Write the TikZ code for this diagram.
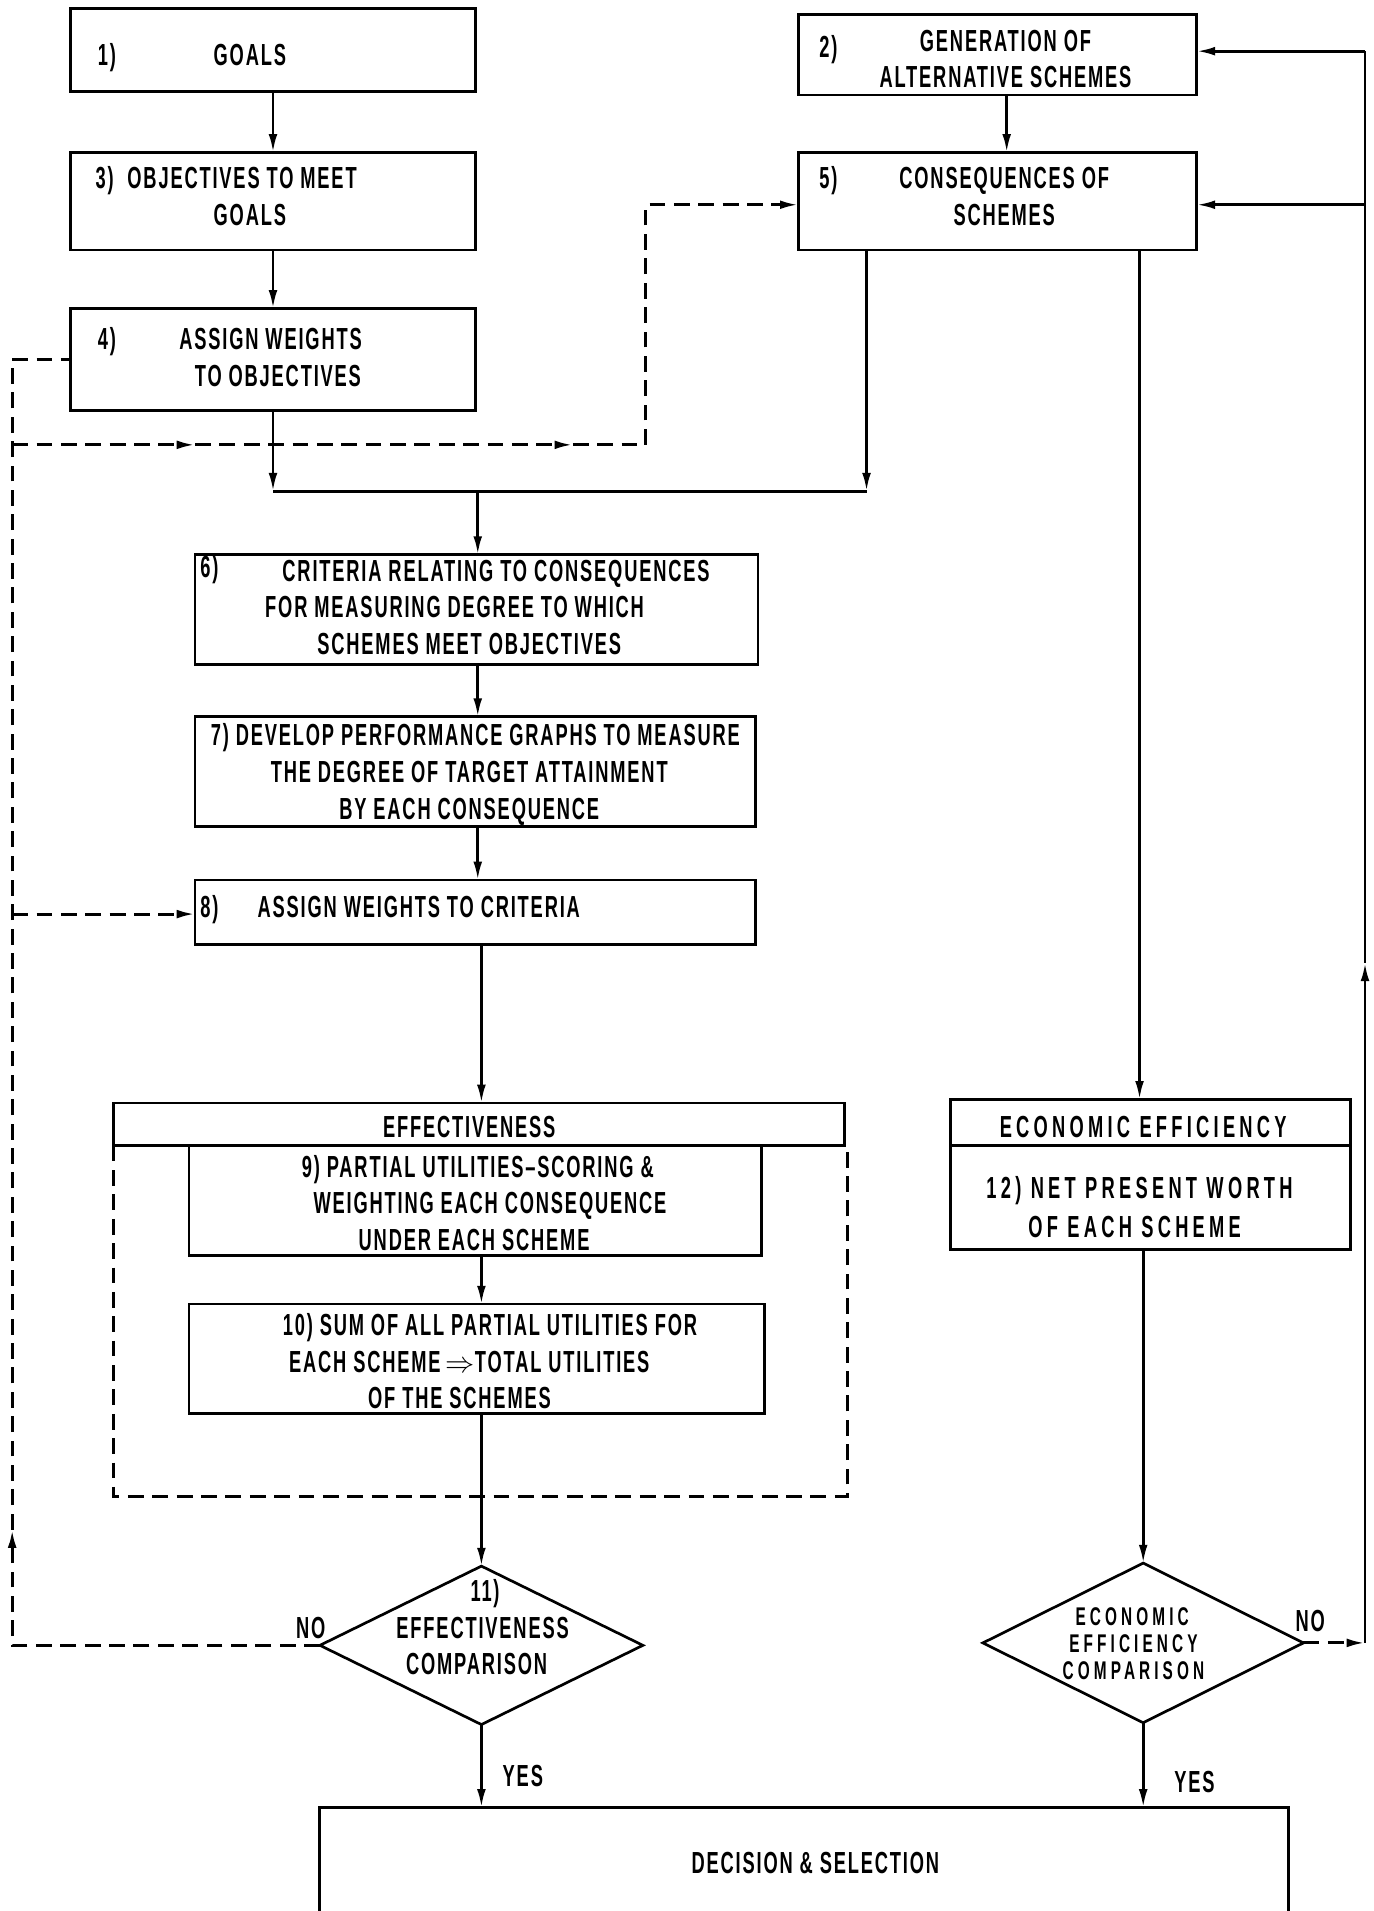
\documentclass[tikz,border=0pt]{standalone}
\usepackage{fontspec}
\setmainfont{Liberation Sans}[FakeStretch=0.6, LetterSpace=6]
\usetikzlibrary{arrows.meta,shapes.geometric,fit}
\begin{document}
\begin{tikzpicture}[x=0.5pt,y=-0.5pt,
  flowbox/.style={draw, line width=1.1pt, inner sep=0pt, outer sep=0pt, rectangle},
  decision/.style={draw, diamond, line width=1.1pt, inner sep=0pt, outer sep=0pt},
  txt/.style={font=\bfseries\fontsize{12.5}{14}\selectfont, inner sep=0pt, anchor=base},
  widetxt/.style={txt, font=\bfseries\fontsize{12.5}{14}\selectfont\addfontfeatures{LetterSpace=14}},
  diamtxt/.style={txt, font=\bfseries\fontsize{10.5}{12}\selectfont\addfontfeatures{LetterSpace=16}},
  tip/.style={-{Latex[length=7.5pt,width=3.6pt]}},
  lnk/.style={line width=1.1pt, tip},
  plain/.style={line width=1.1pt},
  dashln/.style={line width=1.2pt, dash pattern=on 6.5pt off 3.5pt},
]
\useasboundingbox (0,0) rectangle (1127,1568);

% boxes
\node[flowbox, fit={(58,7)(390,75)}] (b1) {};
\node[flowbox, fit={(655,12)(982,78)}] (b2) {};
\node[flowbox, fit={(58,125)(390,205)}] (b3) {};
\node[flowbox, fit={(655,125)(982,205)}] (b5) {};
\node[flowbox, fit={(58,253)(390,337)}] (b4) {};
\node[flowbox, fit={(160,455)(622,545)}] (b6) {};
\node[flowbox, fit={(160,588)(620,678)}] (b7) {};
\node[flowbox, fit={(160,722)(620,775)}] (b8) {};
\node[flowbox, fit={(93,905)(693,940)}] (effh) {};
\node[flowbox, fit={(155,940)(625,1030)}] (b9) {};
\node[flowbox, fit={(155,1070)(627,1160)}] (b10) {};
\node[flowbox, fit={(780,902)(1108,940)}] (eeh) {};
\node[flowbox, fit={(780,940)(1108,1025)}] (b12) {};
\node[flowbox, fit={(262,1483)(1057,1620)}] (dec) {};
\node[decision, minimum width=132.5pt, minimum height=65pt] (d11) at (395,1350) {};
\node[decision, minimum width=131.5pt, minimum height=65.5pt] (d12) at (938,1348) {};

% dashed container of effectiveness
\coordinate (eb1) at (93,1228);
\coordinate (eb2) at (695,1228);
\draw[dashln] (effh.south west) -- (eb1) -- (eb2) -- (effh.south east -| eb2);

% helper coordinates
\coordinate (xc) at (395,0);
\coordinate (x826) at (826,0);
\coordinate (x935) at (935,0);
\coordinate (j4) at (224,403);
\coordinate (j5) at (711,403);
\coordinate (jm) at (392,403);
\coordinate (rx) at (1120,0);
\coordinate (rmid) at (1120,790);
\coordinate (rtop) at (1120,42);
\coordinate (r5) at (1120,168);
\coordinate (lx) at (10,0);
\coordinate (lup) at (10,1255);
\coordinate (la) at (10,365);
\coordinate (lb) at (160,365);
\coordinate (lc) at (470,365);
\coordinate (ld) at (530,365);
\coordinate (le) at (530,168);
\coordinate (l8) at (10,750);

% solid connectors
\draw[lnk] (b1.south) -- (b3.north);
\draw[lnk] (b3.south) -- (b4.north);
\draw[lnk] (b2.south -| x826) -- (b5.north -| x826);
\draw[lnk] (b4.south) -- (j4);
\draw[lnk] (b5.south -| j5) -- (j5);
\draw[plain] (j4) -- (j5);
\draw[lnk] (jm) -- (b6.north -| jm);
\draw[lnk] (b6.south -| jm) -- (b7.north -| jm);
\draw[lnk] (b7.south -| jm) -- (b8.north -| jm);
\draw[lnk] (b8.south -| xc) -- (effh.north -| xc);
\draw[lnk] (b9.south -| xc) -- (b10.north -| xc);
\draw[lnk] (b10.south -| xc) -- (d11.north);
\draw[lnk] (d11.south) -- (dec.north -| d11.south);
\draw[lnk] (b5.south -| x935) -- (eeh.north -| x935);
\draw[lnk] (b12.south -| d12.north) -- (d12.north);
\draw[lnk] (d12.south) -- (dec.north -| d12.south);

% right feedback (NO of economic efficiency)
\draw[dashln, tip] (d12.east) -- (d12.east -| rx);
\draw[lnk] (d12.east -| rx) -- (rmid);
\draw[plain] (rmid) -- (rtop);
\draw[lnk] (rtop) -- (b2.east |- rtop);
\draw[lnk] (r5) -- (b5.east |- r5);

% left feedback (NO of effectiveness)
\draw[dashln, tip] (d11.west) -- (d11.west -| lx) -- (lup);
\draw[dashln] (lup) -- (lx |- b4.west) -- (b4.west);
\draw[dashln, tip] (la) -- (lb);
\draw[dashln, tip] (lb) -- (lc);
\draw[dashln, tip] (lc) -- (ld) -- (le) -- (b5.west |- le);
\draw[dashln, tip] (l8) -- (b8.west |- l8);

% texts
\node[txt, anchor=base west] (t1n) at (80,54) {1)};
\node[txt] (t1) at (205,54) {GOALS};
\node[txt, anchor=base west] (t2n) at (672,47) {2)};
\node[txt] (t2a) at (825,42) {GENERATION OF};
\node[txt] (t2b) at (825,72) {ALTERNATIVE SCHEMES};
\node[txt, anchor=base west] (t3a) at (78,155) {3)\ \ OBJECTIVES TO MEET};
\node[txt] (t3b) at (205,185) {GOALS};
\node[txt, anchor=base west] (t5n) at (672,155) {5)};
\node[txt] (t5a) at (824,155) {CONSEQUENCES OF};
\node[txt] (t5b) at (824,185) {SCHEMES};
\node[txt, anchor=base west] (t4n) at (80,287) {4)};
\node[txt] (t4a) at (222,287) {ASSIGN WEIGHTS};
\node[txt] (t4b) at (228,317) {TO OBJECTIVES};
\node[txt, anchor=base west] (t6n) at (164,474) {6)};
\node[txt] (t6a) at (407,477) {CRITERIA RELATING TO CONSEQUENCES};
\node[txt] (t6b) at (373,507) {FOR MEASURING DEGREE TO WHICH};
\node[txt] (t6c) at (385,537) {SCHEMES MEET OBJECTIVES};
\node[txt] (t7a) at (390,612) {7) DEVELOP PERFORMANCE GRAPHS TO MEASURE};
\node[txt] (t7b) at (385,642) {THE DEGREE OF TARGET ATTAINMENT};
\node[txt] (t7c) at (385,672) {BY EACH CONSEQUENCE};
\node[txt, anchor=base west] (t8n) at (164,753) {8)};
\node[txt, anchor=base west] (t8) at (211,753) {ASSIGN WEIGHTS TO CRITERIA};
\node[txt] (teff) at (385,933) {EFFECTIVENESS};
\node[txt] (t9a) at (392,966) {9) PARTIAL UTILITIES--SCORING \&};
\node[txt] (t9b) at (402,996) {WEIGHTING EACH CONSEQUENCE};
\node[txt] (t9c) at (389,1026) {UNDER EACH SCHEME};
\node[txt] (t10a) at (402,1096) {10) SUM OF ALL PARTIAL UTILITIES FOR};
\node[txt] (t10b) at (385,1126) {EACH SCHEME\,$\Rightarrow$TOTAL UTILITIES};
\node[txt] (t10c) at (377,1156) {OF THE SCHEMES};
\node[txt] (t11a) at (398,1314) {11)};
\node[txt] (t11b) at (396,1344) {EFFECTIVENESS};
\node[txt] (t11c) at (391,1374) {COMPARISON};
\node[txt] (tno1) at (255,1344) {NO};
\node[txt] (tyes1) at (429,1466) {YES};
\node[widetxt] (tee) at (938,933) {ECONOMIC EFFICIENCY};
\node[widetxt] (t12a) at (935,983) {12) NET PRESENT WORTH};
\node[widetxt] (t12b) at (931,1015) {OF EACH SCHEME};
\node[diamtxt] (td12a) at (929,1334) {ECONOMIC};
\node[diamtxt] (td12b) at (930,1356) {EFFICIENCY};
\node[diamtxt] (td12c) at (930,1378) {COMPARISON};
\node[txt] (tno2) at (1075,1339) {NO};
\node[txt] (tyes2) at (980,1471) {YES};
\node[txt] (tdec) at (669,1537) {DECISION \& SELECTION};
\end{tikzpicture}
\end{document}
